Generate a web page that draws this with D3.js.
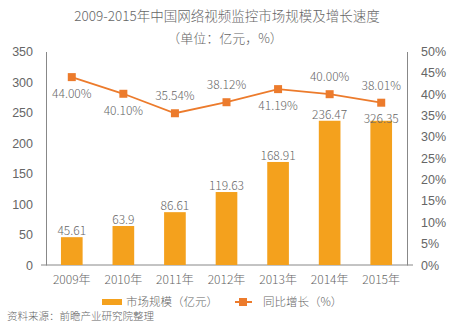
<!DOCTYPE html>
<html>
<head>
<meta charset="utf-8">
<script src="https://cdn.jsdelivr.net/npm/d3@7"></script>
<style>
  body { margin: 0; background: #fff; }
  svg { font-family: "Noto Sans CJK SC", "Noto Sans", sans-serif; font-weight: 300; }
</style>
</head>
<body>
<svg id="chart"></svg>
<script>
const years = ["2009年", "2010年", "2011年", "2012年", "2013年", "2014年", "2015年"]
// bar heights as drawn in the picture (the 2015 bar is drawn at the 2014 height)
const marketSize = [45.61, 63.9, 86.61, 119.63, 168.91, 236.47, 236.47]
const marketLabels = ["45.61", "63.9", "86.61", "119.63", "168.91", "236.47", "326.35"]
const growth = [44.00, 40.10, 35.54, 38.12, 41.19, 40.00, 38.01]
const leftTicks = [0, 50, 100, 150, 200, 250, 300, 350]
const rightTicks = [0, 5, 10, 15, 20, 25, 30, 35, 40, 45, 50]

const width = 465
const height = 334
const barColor = "#F4A11D"
const lineColor = "#EC7B2C"
const textColor = "#666"

const svg = d3.select("#chart")
    .attr("width", width)
    .attr("height", height)

const x = d3.scaleBand()
    .domain(years)
    .range([46, 407])
    .paddingInner(0.58)
    .paddingOuter(0.29)

const y = d3.scaleLinear().domain([0, 350]).range([265, 51.5])
const y2 = d3.scaleLinear().domain([0, 50]).range([265, 51.5])

// title
svg.append("text")
    .attr("x", 227).attr("y", 21)
    .attr("text-anchor", "middle")
    .attr("fill", textColor)
    .style("font-size", "13.5px")
    .text("2009-2015年中国网络视频监控市场规模及增长速度")
svg.append("text")
    .attr("x", 225).attr("y", 43)
    .attr("text-anchor", "middle")
    .attr("fill", textColor)
    .style("font-size", "13px")
    .text("（单位：亿元，%）")

// axes
const leftAxis = svg.append("g")
    .attr("transform", "translate(46,0)")
    .call(d3.axisLeft(y).tickValues(leftTicks).tickSize(0).tickPadding(13))
leftAxis.select(".domain").attr("stroke", "#888")
leftAxis.selectAll("text").attr("fill", textColor).style("font-size", "12.5px")

const rightAxis = svg.append("g")
    .attr("transform", "translate(407,0)")
    .call(d3.axisRight(y2).tickValues(rightTicks).tickSize(0).tickPadding(14).tickFormat(d => d + "%"))
rightAxis.select(".domain").attr("stroke", "#888")
rightAxis.selectAll("text").attr("fill", textColor).style("font-size", "12.5px")

// bottom axis line with small overhangs
svg.append("line")
    .attr("x1", 41).attr("x2", 413)
    .attr("y1", y(0)).attr("y2", y(0))
    .attr("stroke", "#888")

svg.append("g")
    .selectAll("text")
    .data(years)
    .join("text")
    .attr("x", d => x(d) + x.bandwidth() / 2)
    .attr("y", 284)
    .attr("text-anchor", "middle")
    .attr("fill", textColor)
    .style("font-size", "12px")
    .text(d => d)

// bars
svg.append("g")
    .selectAll("rect")
    .data(marketSize)
    .join("rect")
    .attr("x", (d, i) => x(years[i]))
    .attr("y", d => y(d))
    .attr("width", x.bandwidth())
    .attr("height", d => y(0) - y(d))
    .attr("fill", barColor)

svg.append("g")
    .selectAll("text")
    .data(marketSize)
    .join("text")
    .attr("x", (d, i) => x(years[i]) + x.bandwidth() / 2)
    .attr("y", (d, i) => y(d) - (i === 6 ? -2 : 2))
    .attr("text-anchor", "middle")
    .attr("fill", textColor)
    .style("font-size", "12px")
    .text((d, i) => marketLabels[i])

// growth line
const line = d3.line()
    .x((d, i) => x(years[i]) + x.bandwidth() / 2)
    .y(d => y2(d))

svg.append("path")
    .datum(growth)
    .attr("d", line)
    .attr("fill", "none")
    .attr("stroke", lineColor)
    .attr("stroke-width", 1.8)

svg.append("g")
    .selectAll("rect")
    .data(growth)
    .join("rect")
    .attr("x", (d, i) => x(years[i]) + x.bandwidth() / 2 - 4)
    .attr("y", d => y2(d) - 4)
    .attr("width", 8)
    .attr("height", 8)
    .attr("fill", lineColor)

// label above (-1) or below (+1) the point
const side = [1, 1, -1, -1, 1, -1, -1]
svg.append("g")
    .selectAll("text")
    .data(growth)
    .join("text")
    .attr("x", (d, i) => x(years[i]) + x.bandwidth() / 2)
    .attr("y", (d, i) => y2(d) + side[i] * 17 + 4)
    .attr("text-anchor", "middle")
    .attr("fill", textColor)
    .style("font-size", "12px")
    .text(d => d.toFixed(2) + "%")

// legend
const legend = svg.append("g").style("font-size", "11.5px")
legend.append("rect")
    .attr("x", 102).attr("y", 299)
    .attr("width", 20).attr("height", 6)
    .attr("fill", barColor)
legend.append("text")
    .attr("x", 126).attr("y", 306)
    .attr("fill", textColor)
    .text("市场规模（亿元）")
legend.append("line")
    .attr("x1", 235).attr("x2", 252)
    .attr("y1", 302).attr("y2", 302)
    .attr("stroke", lineColor).attr("stroke-width", 2)
legend.append("rect")
    .attr("x", 239).attr("y", 298)
    .attr("width", 8).attr("height", 8)
    .attr("fill", lineColor)
legend.append("text")
    .attr("x", 263).attr("y", 306)
    .attr("fill", textColor)
    .text("同比增长（%）")

// source
svg.append("text")
    .attr("x", 7).attr("y", 320)
    .attr("fill", textColor)
    .style("font-size", "10.5px")
    .text("资料来源：前瞻产业研究院整理")
</script>
</body>
</html>
